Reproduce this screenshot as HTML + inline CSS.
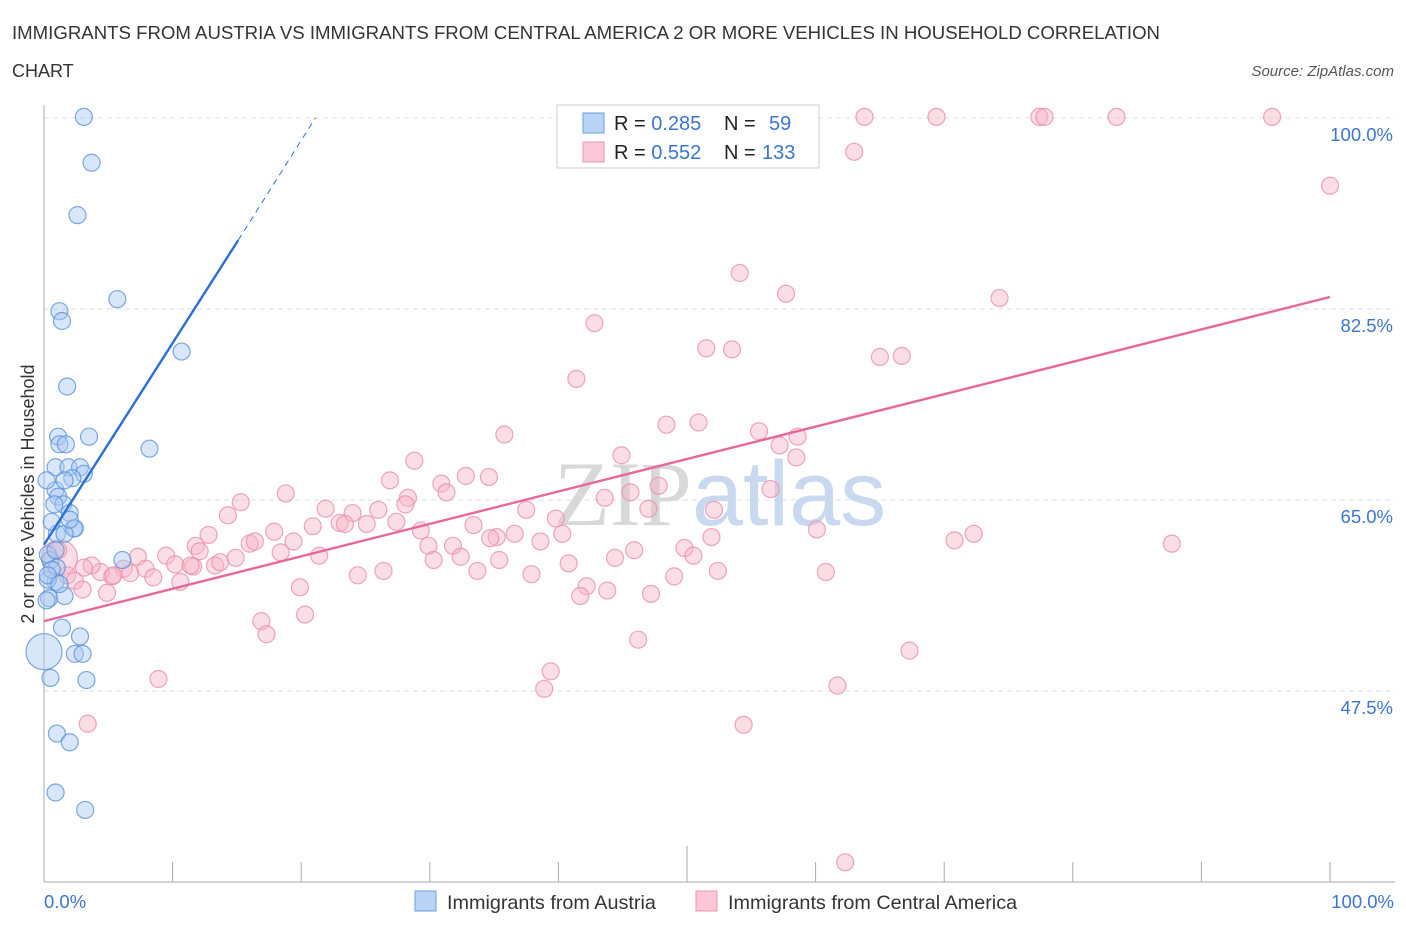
<!DOCTYPE html>
<html><head><meta charset="utf-8"><style>
body{margin:0;background:#fff;font-family:"Liberation Sans",sans-serif}
svg{display:block}
</style></head><body>
<svg width="1406" height="930" viewBox="0 0 1406 930" xmlns="http://www.w3.org/2000/svg" font-family="Liberation Sans, sans-serif">
<text x="12" y="39" font-size="18" fill="#333" textLength="1148" lengthAdjust="spacingAndGlyphs">IMMIGRANTS FROM AUSTRIA VS IMMIGRANTS FROM CENTRAL AMERICA 2 OR MORE VEHICLES IN HOUSEHOLD CORRELATION</text>
<text x="12" y="77" font-size="18" fill="#333">CHART</text>
<text x="1394" y="76" font-size="15" font-style="italic" fill="#555" text-anchor="end">Source: ZipAtlas.com</text>
<g id="grid"></g>
<text x="720" y="525" font-size="92" text-anchor="middle"><tspan fill="#d8d8d8" font-family="Liberation Serif, serif">ZIP</tspan><tspan fill="#c8d8ee">atlas</tspan></text>
<g id="axes"></g>
<g id="pts"></g>
<g id="trend"></g>
<text transform="translate(34,494) rotate(-90)" font-size="18" fill="#333" text-anchor="middle">2 or more Vehicles in Household</text>
<g>
<rect x="557" y="105" width="262" height="63" fill="#fff" stroke="#ccc"/>
<rect x="583" y="113" width="21" height="20" fill="#b8d3f5" stroke="#6a9fe0"/>
<rect x="583" y="142" width="21" height="20" fill="#fcc8d7" stroke="#ec94b0"/>
<text x="614" y="130" font-size="20" fill="#222">R = <tspan fill="#3b75d0">0.285</tspan><tspan x="724">N = </tspan><tspan x="769" fill="#3b75d0">59</tspan></text>
<text x="614" y="159" font-size="20" fill="#222">R = <tspan fill="#3b75d0">0.552</tspan><tspan x="724">N = </tspan><tspan x="762" fill="#3b75d0">133</tspan></text>
</g>
<g>
<rect x="415" y="891" width="21" height="20" fill="#b8d3f5" stroke="#6a9fe0"/>
<text x="447" y="909" font-size="19.8" fill="#333">Immigrants from Austria</text>
<rect x="696" y="891" width="21" height="20" fill="#fcc8d7" stroke="#ec94b0"/>
<text x="728" y="909" font-size="19.8" fill="#333">Immigrants from Central America</text>
</g>
</svg>
<script>
const yTicks=[100,82.5,65,47.5];
const yTickLabels=["100.0%","82.5%","65.0%","47.5%"];
const xEndLabels=["0.0%","100.0%"];
const austriaX=[3.1,3.7,2.6,5.7,1.2,1.4,10.7,1.8,3.5,1.1,1.2,1.7,8.2,0.9,1.9,2.8,3.1,2.2,0.9,1.1,1.5,2.0,2.3,2.4,1.0,1.6,0.5,0.3,6.1,1.0,0.9,0.3,0.4,1.6,0.2,2.8,1.4,0,2.4,3.0,0.5,3.3,1.0,2.0,0.9,3.2,0.9,0.6,0.3,1.2,2.0,0.6,0.8,0.2,1.6];
const austriaY=[100.1,95.9,91.1,83.4,82.3,81.4,78.6,75.4,70.8,70.8,70.1,70.1,69.7,68.0,68.0,68.0,67.4,67.0,65.9,65.3,64.6,63.8,62.4,62.4,61.9,61.9,59.5,60.0,59.5,58.8,57.5,57.7,56.0,56.2,55.8,52.5,53.3,51.1,50.9,50.9,48.7,48.5,43.6,42.8,38.2,36.6,60.4,58.6,58.1,57.3,63.2,63.0,64.6,66.8,66.8];
const austriaBig=[37];
const camX=[55.7,63.8,69.4,77.4,77.8,83.4,95.5,63.0,100.0,54.1,57.7,74.3,42.8,51.5,53.5,65.0,66.7,41.4,48.4,50.9,35.8,55.6,58.6,57.2,58.5,44.9,28.8,26.9,32.8,34.6,30.9,31.3,28.3,28.1,18.8,15.3,21.9,24.0,26.0,20.9,23.0,23.4,25.1,27.4,29.3,33.4,37.5,39.8,43.6,45.6,47.8,47.0,56.5,52.1,60.1,70.8,72.3,87.7,51.9,40.3,38.6,36.6,35.2,34.7,29.9,31.8,32.4,30.3,35.4,33.7,37.9,40.8,44.4,45.9,49.8,50.5,49.0,52.4,60.8,42.2,41.7,43.8,47.2,46.2,39.4,38.9,61.7,67.3,54.4,62.3,14.3,12.8,11.8,12.1,9.5,7.3,6.2,5.3,4.4,3.7,3.1,1.2,1.1,1.8,2.4,3.0,4.9,5.4,6.7,7.9,8.5,10.2,10.6,11.6,13.3,13.7,14.9,16.0,16.4,17.9,18.4,19.4,21.4,19.9,20.3,16.9,17.3,24.4,26.4,8.9,3.4,11.4];
const camY=[100.1,100.1,100.1,100.1,100.1,100.1,100.1,96.9,93.8,85.8,83.9,83.5,81.2,78.9,78.8,78.1,78.2,76.1,71.9,72.1,71.0,71.3,70.8,70.0,68.9,69.1,68.6,66.8,67.2,67.1,66.5,65.7,65.2,64.6,65.6,64.8,64.2,63.8,64.1,62.6,62.9,62.8,62.8,63.0,62.2,62.7,64.1,63.3,65.2,65.7,66.3,64.2,66.0,64.1,62.3,61.3,61.9,61.0,61.6,61.9,61.2,61.9,61.6,61.5,60.8,60.8,59.8,59.5,59.5,58.5,58.2,59.2,59.7,60.4,60.6,59.9,58.0,58.5,58.4,57.1,56.2,56.7,56.4,52.2,49.3,47.7,48.0,51.2,44.4,31.8,63.6,61.8,60.8,60.3,59.9,59.8,58.7,58.0,58.4,59.0,58.8,59.7,60.4,58.1,57.6,56.8,56.5,58.1,58.3,58.7,57.9,59.1,57.5,58.9,59.0,59.3,59.7,61.0,61.2,62.1,60.2,61.2,59.9,57.0,54.5,53.9,52.7,58.1,58.5,48.6,44.5,59.0];
const camBig=[101];
const austriaTrend=[[0,60.9],[15.1,88.8]];
const austriaTrendDash=[[15.1,88.8],[21.1,100]];
const camTrend=[[0,53.9],[100,83.6]];

const X=v=>44+v*12.86, Y=v=>118+(100-v)*10.914;
const NS="http://www.w3.org/2000/svg";
function mk(t,a,p){const e=document.createElementNS(NS,t);for(const k in a)e.setAttribute(k,a[k]);p.appendChild(e);return e;}
const grid=document.getElementById('grid'),axes=document.getElementById('axes'),pts=document.getElementById('pts'),tr=document.getElementById('trend');
yTicks.forEach((v,i)=>{
 const l=mk('line',{x1:44,x2:1395,y1:Y(v),y2:Y(v),stroke:'#ddd','stroke-dasharray':'5,4'},grid);
 
 
 const t=mk('text',{x:1393,y:Y(v)+23,'font-size':18.5,fill:'#3b75d0','text-anchor':'end'},axes);
 t.textContent=yTickLabels[i];
 
 
});
const ya=mk('line',{x1:44,x2:44,y1:105,y2:882,stroke:'#aaa'},axes);


const xa=mk('line',{x1:44,x2:1395,y1:882,y2:882,stroke:'#aaa'},axes);


for(let v=0;v<=100;v+=10){
 const tk=mk('line',{x1:X(v),x2:X(v),y1:v==50?846:862,y2:882,stroke:'#aaa'},axes);
 
 
}
[[0,'start',44],[100,'end',1394]].forEach((d,i)=>{
 const t=mk('text',{x:d[2],y:908,'font-size':18.5,fill:'#3b75d0','text-anchor':d[1]},axes);
 t.textContent=xEndLabels[i];
 
 
});
function dots(xs,ys,big,fill,stroke,name){
 xs.forEach((x,i)=>{
  const c=mk('circle',{cx:X(x),cy:Y(ys[i]),r:big.includes(i)?18:8.5,fill:fill,'fill-opacity':0.45,stroke:stroke,'stroke-opacity':0.8,'stroke-width':1.2},pts);
  
  
 });
}
dots(camX,camY,camBig,'#f7b3c8','#e990ad','point-central-america');
dots(austriaX,austriaY,austriaBig,'#a8c8f2','#5b93d9','point-austria');
function line(p,col,dash,name){
 const l=mk('line',{x1:X(p[0][0]),y1:Y(p[0][1]),x2:X(p[1][0]),y2:Y(p[1][1]),stroke:col,'stroke-width':dash?1:2.4},tr);
 if(dash)l.setAttribute('stroke-dasharray','6,5');
 
 
}
line(austriaTrend,'#2a6fd6',false,'trend-austria');
line(austriaTrendDash,'#2a6fd6',true,'trend-austria-extension');
line(camTrend,'#e8679a',false,'trend-central-america');
</script>
</body></html>
